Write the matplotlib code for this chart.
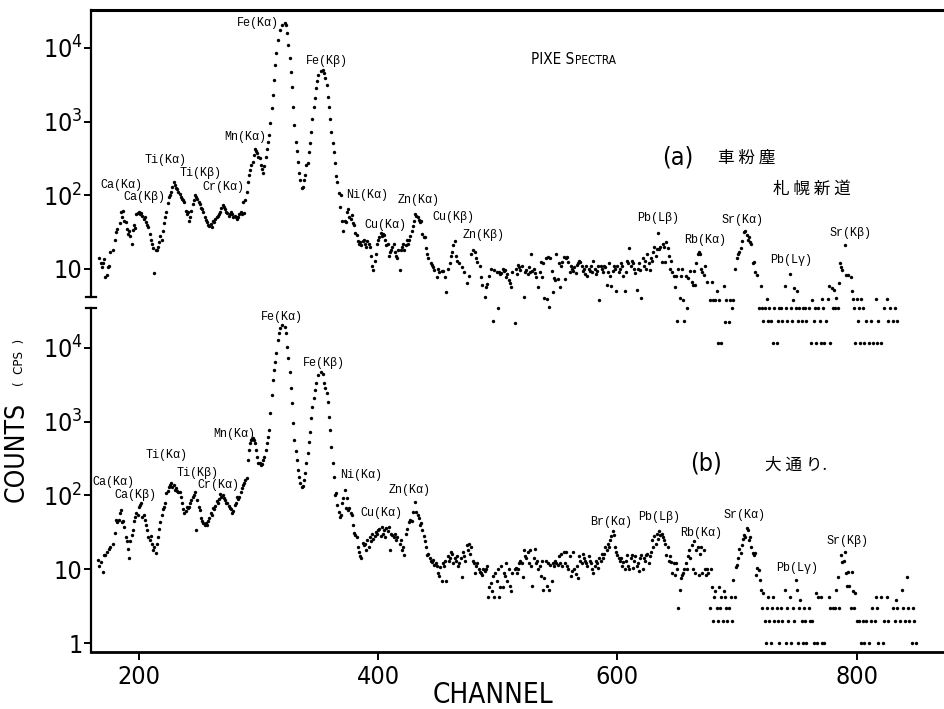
import matplotlib
matplotlib.use("Agg")
import matplotlib.pyplot as plt
from matplotlib.ticker import NullLocator

plt.rcParams['font.family'] = ['DejaVu Sans']
plt.rcParams['font.stretch'] = 'condensed'
plt.rcParams['mathtext.fontset'] = 'custom'
plt.rcParams['mathtext.rm'] = 'DejaVu Sans:stretch=condensed'
plt.rcParams['mathtext.it'] = 'DejaVu Sans:stretch=condensed'

# (a) road dust, Sapporo Shindo  -- (channel, counts/s)
pts_a = [
    (167,14),(168,12),(169,10.6),(170,12),(171,13.5),(172,7.8),(173,8.3),(174,10.6),(175,11),(176,17),
    (178,18),(180,25),(181,32),(182,35),(184,42),(185,60),(186,50),(187,62),(188,45),(189,43),
    (190,35),(191,30),(192,33),(193,28),(194,22),(195,34),(196,40),(197,36),(198,55),(199,58),
    (200,60),(201,56),(202,58),(203,52),(204,48),(205,50),(206,44),(207,40),(208,37),(209,30),
    (210,25),(211,22),(212,19),(213,8.8),(214,18),(215,18),(216,20),(217,23),(218,28),(219,25),
    (220,33),(221,42),(222,50),(223,60),(224,78),(225,95),(226,100),(227,110),(228,130),(229,150),
    (230,140),(231,125),(232,120),(233,110),(234,105),(235,95),(236,90),(237,85),(238,80),(239,62),
    (240,55),(241,60),(242,45),(243,50),(244,62),(245,75),(246,85),(247,100),(248,95),(249,90),
    (250,82),(251,75),(252,68),(253,65),(254,60),(255,50),(256,46),(257,43),(258,40),(259,38),
    (260,41),(261,37),(262,45),(263,44),(264,48),(265,50),(266,52),(267,55),(268,60),(269,68),
    (270,73),(271,70),(272,65),(273,60),(274,58),(275,52),(276,55),(277,60),(278,55),(279,50),
    (280,52),(281,50),(282,48),(283,50),(284,55),(285,60),(286,55),(287,80),(288,58),(289,85),
    (290,110),(291,150),(292,190),(293,220),(294,260),(295,280),(296,350),(297,430),(298,400),(299,370),
    (300,330),(301,320),(302,260),(303,230),(304,200),(305,250),(306,330),(307,420),(308,530),(309,660),
    (310,960),(311,1530),(312,2300),(313,3670),(314,5800),(315,8500),(316,12800),(318,17400),(320,20400),
    (322,21800),(323,20400),(324,15900),(325,11000),(326,7200),(327,4700),(328,2950),(329,1580),(330,900),
    (331,530),(332,400),(333,280),(334,200),(335,160),(336,125),(337,130),(338,160),(339,190),(340,260),
    (341,275),(342,390),(343,510),(344,720),(345,1100),(346,1600),(347,2100),(348,2900),(349,3600),
    (350,4300),(352,4900),(354,5000),(355,4600),(356,3900),(357,3100),(358,2150),(359,1600),(360,1100),
    (361,720),(362,510),(363,390),(364,275),(365,180),(366,150),(367,108),(368,70),(369,100),(370,45),
    (371,33),(372,45),(373,43),(374,60),(375,65),(376,50),(377,48),(378,54),(379,42),(380,40),
    (381,31),(382,29),(383,24),(384,22),(385,23),(386,21),(387,24),(388,25),(389,22),(390,20),
    (391,24),(392,22),(393,20),(394,15),(395,11),(396,9.6),(397,13),(398,16),(399,22),(400,25),
    (401,27),(402,31),(403,28),(404,30),(405,29),(406,25),(407,21),(408,22),(409,15),(410,17),
    (411,18),(412,20),(413,22),(414,17),(415,15),(416,14),(417,18),(418,9.7),(419,18),(420,20),
    (421,22),(422,18),(423,21),(424,25),(425,22),(426,25),(427,28),(428,33),(429,38),(430,45),
    (431,55),(432,52),(433,50),(434,46),(435,43),(436,45),(437,30),(438,27),(439,27),(440,19),
    (441,16),(442,14),(444,12),(445,11.3),(446,10.5),(447,9.6),(449,7.8),(450,10),(451,9),(453,9.5),
    (454,9.5),(456,7.8),(457,4.8),(458,10),(460,12),(461,15),(462,17),(463,21),(464,24),(465,15),
    (466,13),(468,12),(470,10.5),(472,9),(474,6.5),(476,8),(478,16),(479,18),(481,17),(482,14),
    (483,12.5),(485,11),(486,7.8),(487,6.1),(489,4.2),(490,5.7),(491,6.3),(493,8),(494,10),(496,2),
    (497,9.7),(499,9.1),(500,3),(501,9.1),(502,8.5),(503,8.9),(504,10),(505,9.3),(506,9.7),(507,7.8),
    (508,8.5),(509,7.2),(510,6.5),(511,5.7),(512,9),(514,1.85),(515,10),(516,8.5),(517,11.3),(518,10.5),
    (519,9.7),(520,11),(522,4.2),(523,9),(524,9.7),(525,8.5),(526,10.5),(527,9),(528,16),(529,9.5),
    (530,10),(531,8.7),(532,7.8),(534,5.7),(535,9),(536,12.5),(537,7.8),(538,12),(539,4),(540,14),
    (541,3.9),(542,14.5),(543,3.05),(544,14),(545,9.3),(546,4.9),(547,7.5),(548,7.1),(549,16),(550,7.3),
    (551,12),(552,5.7),(553,11),(554,12.5),(555,14.5),(556,7.4),(557,14),(558,14.5),(559,12.5),(560,9),
    (561,11),(562,10),(563,9.3),(564,10.5),(565,8.7),(566,11.5),(567,12),(568,13),(569,12.5),(570,11),
    (571,9.5),(572,10),(573,8.5),(574,11),(575,8),(576,10),(577,9.5),(578,11),(579,9),(580,13),
    (581,10),(582,8.5),(583,9.5),(584,11),(585,3.8),(586,11),(587,10),(588,9),(589,11),(590,10.5),
    (591,6),(592,9),(593,12),(594,8),(595,5.9),(596,9.5),(597,11),(598,10),(599,5),(600,11),
    (601,9),(602,10),(603,12),(604,11),(605,8),(606,5),(607,9),(608,13),(609,12),(610,19),
    (611,11),(612,13),(613,12),(614,9.9),(615,8.7),(616,5.2),(617,10),(618,12),(619,9.7),(620,4),
    (621,14),(622,11),(623,13),(624,10),(625,16),(626,12),(627,9.7),(628,14),(629,13),(630,17),
    (631,20),(632,15),(633,18.5),(634,31),(635,18.5),(636,20),(637,12.5),(638,22),(639,20),(640,12.5),
    (641,23),(642,19),(643,15),(644,10),(645,12.7),(646,9),(647,8),(648,5.7),(649,8),(650,2),
    (651,10),(652,4),(653,8),(654,10),(655,3.8),(656,2),(657,8),(658,3),(659,7.5),(661,9.3),
    (662,6.7),(663,6),(664,9.3),(665,6),(666,12),(667,16),(668,17),(669,16),(670,10),(671,9),
    (672,8.3),(673,11),(675,6.7),(677,3.8),(679,6.7),(680,3.8),(682,3.8),(683,5),(684,1),(685,3.8),
    (687,1),(689,5.9),(690,1.9),(691,3.8),(693,1.9),(694,3.8),(696,3),(697,3.8),(698,10),(700,14),
    (701,16),(702,17),(703,19),(704,24),(706,32),(707,33),(708,29),(709,25),(710,27),(711,23),
    (712,22),(713,12),(714,12.5),(715,9),(717,8.3),(718,3),(720,5.9),(721,3),(722,2),(723,3),
    (725,3.9),(726,2),(727,3),(728,2),(730,1),(731,3),(733,1),(734,2),(735,3),(737,3),
    (738,2),(740,5.9),(741,3),(742,2),(744,8.5),(745,3),(746,2),(747,3.8),(748,5.5),(749,3),
    (750,5),(751,2),(752,3),(754,2),(755,3),(757,3),(758,2),(760,3),(762,1),(763,3.8),
    (764,2),(765,3),(766,1),(768,3),(769,2),(770,1),(771,3.9),(772,3),(773,1),(774,2),
    (776,3.9),(777,5.9),(778,1),(779,5.5),(780,3),(781,5.2),(782,3),(783,4),(784,3),(785,6.4),
    (786,12),(787,10.5),(788,9.7),(790,21),(791,8.3),(793,8.3),(795,7.7),(796,5),(797,3.9),(798,3),
    (799,1),(800,3.9),(801,2),(802,3),(803,1),(804,3.9),(805,3),(806,1),(808,2),(810,1),
    (812,2),(814,1),(816,3.9),(817,1),(818,2),(820,1),(823,3),(825,3.9),(826,2),(828,3),
    (830,2),(832,3),(834,2),
]

# (b) Odori  -- (channel, counts/s)
pts_b = [
    (166,13.3),(167,11),(168,12.5),(170,9.2),(171,15.6),(172,15.6),(173,17),(175,19),(176,20),(178,22),
    (180,31),(181,46),(182,44),(183,46),(184,57),(185,64),(186,44),(187,45),(188,37),(189,27),
    (190,24),(191,19),(192,14),(193,24),(194,29),(195,34),(196,45),(197,51),(198,57),(199,55),
    (200,70),(201,74),(202,78),(203,51),(204,55),(205,47),(206,40),(207,34),(208,27),(209,25),
    (210,28),(211,22),(212,18),(213,20),(214,16.6),(215,22),(216,27),(217,35),(218,44),(219,54),
    (220,65),(221,70),(222,79),(223,108),(224,115),(225,130),(226,140),(227,150),(228,130),(229,140),
    (230,120),(231,125),(232,115),(233,110),(234,110),(235,95),(236,79),(237,65),(238,58),(239,62),
    (240,70),(241,68),(242,70),(243,80),(244,87),(245,95),(246,100),(247,110),(248,34),(249,87),
    (250,70),(251,64),(252,50),(253,45),(254,42),(255,40),(256,42),(257,40),(258,45),(259,50),
    (260,57),(261,55),(262,68),(263,65),(264,72),(265,85),(266,80),(267,90),(268,105),(269,95),
    (270,100),(271,92),(272,87),(273,80),(274,78),(275,72),(276,68),(277,65),(278,58),(279,62),
    (280,74),(281,80),(282,95),(283,90),(284,95),(285,110),(286,125),(287,140),(288,150),(289,160),
    (290,175),(291,300),(292,420),(293,520),(294,560),(295,600),(296,570),(297,520),(298,420),(299,330),
    (300,280),(301,275),(302,260),(303,265),(304,300),(305,330),(306,420),(307,520),(308,620),(309,770),
    (310,1300),(311,2300),(312,3700),(313,5000),(314,6500),(315,8500),(316,12800),(317,16000),(318,18600),
    (320,20500),(322,19500),(323,16000),(324,10300),(325,7300),(326,4700),(327,2900),(328,1800),(329,950),
    (330,570),(331,400),(332,300),(333,220),(334,180),(335,150),(336,130),(337,135),(338,160),(339,200),
    (340,275),(341,380),(342,530),(343,720),(344,1120),(345,1600),(346,2100),(347,2700),(348,3400),
    (350,4300),(352,4700),(354,4500),(355,3400),(356,2900),(357,2450),(358,1850),(359,1160),(360,770),
    (361,450),(362,275),(363,178),(364,100),(365,108),(366,74),(367,60),(368,51),(369,54),(370,79),
    (371,92),(372,119),(373,68),(374,92),(375,64),(376,68),(377,58),(378,54),(379,40),(380,31),
    (381,29),(382,27),(383,20),(384,17),(385,15),(386,14),(387,23),(388,21),(389,22),(390,18),
    (391,25),(392,20),(393,27),(394,24),(395,30),(396,26),(397,28),(398,32),(399,30),(400,34),
    (401,35),(402,28),(403,37),(404,30),(405,34),(406,27),(407,36),(408,33),(409,37),(410,18),
    (411,30),(412,29),(413,27),(414,30),(415,25),(416,27),(418,22),(419,25),(420,18),(421,20),
    (422,15.6),(423,30),(424,35),(426,44),(427,47),(428,45),(429,60),(431,81),(432,60),(433,55),
    (434,50),(435,40),(436,42),(437,34),(438,28),(439,24),(440,20),(441,15.6),(442,16),(443,14),
    (444,13),(445,12.5),(446,13.5),(447,11.5),(448,12),(449,11),(450,9),(451,8),(452,10.7),(453,7),
    (454,12),(455,11),(456,13),(457,7),(458,15),(459,13),(460,14),(461,17),(462,16),(463,12),
    (464,14),(465,13),(466,15),(467,11),(468,12),(469,14),(470,7.8),(471,17),(472,15),(473,13),
    (474,21),(475,18),(476,22),(477,16),(478,20),(479,13),(480,12),(481,9),(482,11),(483,12),
    (484,10),(485,9.2),(486,8.8),(487,8.4),(488,10),(489,9.5),(490,10),(491,11),(492,4.2),(493,5.7),
    (494,6.5),(495,5),(496,8),(497,4.2),(498,9),(499,7),(500,10),(501,4.2),(502,5.7),(503,11),
    (504,5.7),(505,9),(506,8),(507,12),(508,7),(509,10),(510,6),(511,5),(512,9),(514,10),
    (515,10.5),(516,9),(517,10),(518,12),(519,13),(520,12),(521,7.8),(522,18),(523,15),(524,14),
    (525,17),(526,12),(527,18),(528,11),(529,6),(530,14),(531,19),(532,12),(533,13),(534,10),
    (535,11),(536,8),(537,13),(538,5.2),(539,7.6),(540,13),(541,6),(542,12),(543,5.2),(544,11.4),
    (545,7),(546,12),(547,11),(548,13),(549,12),(550,11.4),(551,15),(552,12),(553,16),(554,11),
    (555,17),(556,12),(557,17),(558,11),(559,10),(560,15),(561,8),(562,9.5),(563,17),(564,10),
    (565,8.6),(566,11),(567,7.5),(568,15),(569,13),(570,12),(571,16),(572,14),(573,13),(574,12),
    (575,11),(576,15),(577,13),(578,12),(579,10),(580,9),(581,11),(582,13),(583,12),(584,10.5),
    (585,14),(586,13),(587,16),(588,14),(589,16),(590,20),(591,18),(592,22),(593,20),(594,25),
    (595,28),(596,33),(597,29),(598,20),(599,17),(600,15.6),(601,14),(602,13),(603,14),(604,11),
    (605,12.5),(606,10),(607,13),(608,15.6),(609,11),(610,10),(611,14),(612,15.6),(613,10.5),(614,13),
    (615,15),(616,11),(617,12),(618,9.5),(619,14),(620,15.6),(621,10),(622,14),(623,13),(624,15.6),
    (625,16),(626,12),(627,15),(628,17),(629,25),(630,20),(631,28),(632,22),(633,30),(634,26),
    (635,33),(636,29),(637,30),(638,27),(639,25),(640,22),(641,15.6),(642,20),(643,13),(644,15),
    (645,12.5),(646,9),(647,12),(648,8.4),(649,12),(650,10),(651,3),(652,5.2),(653,7.5),(654,8.4),
    (655,9),(656,10),(657,12),(658,10),(659,15),(660,18),(661,14),(662,21),(663,10),(664,24),
    (665,9),(666,18),(667,20),(668,8.4),(669,16),(670,20),(671,9),(672,18),(673,10),(674,8.4),
    (675,10),(676,9),(677,3),(678,10),(679,5.7),(680,2),(681,4.2),(682,5),(683,3),(684,2),
    (685,5.7),(686,3),(687,4.2),(688,2),(689,5),(690,4.2),(691,3),(692,2),(693,3),(695,4.2),
    (696,2),(697,7.1),(698,4.2),(699,10.7),(700,11.4),(701,14),(702,19),(703,16.6),(704,21),(705,26),
    (706,29),(707,27),(708,36),(709,34),(710,25),(711,27),(712,20),(713,16.6),(714,15.6),(715,16.6),
    (716,8.4),(717,10.4),(718,9.8),(719,7.1),(720,5.2),(721,3),(722,4.8),(723,2),(724,1),(725,3),
    (726,4.2),(727,2),(728,1),(729,3),(730,4.2),(731,2),(733,3),(734,2),(735,1),(737,3),
    (738,2),(740,5.2),(741,1),(742,3),(743,2),(744,4.2),(745,1),(747,3),(748,2),(749,7.1),
    (750,5.2),(751,1),(752,3),(753,3.8),(754,2),(755,1),(756,3),(757,2),(758,1),(760,3),
    (761,2),(763,2),(764,1),(766,4.8),(767,1),(768,4.2),(770,4.2),(771,1),(773,1),(777,4.2),
    (778,3),(780,3),(782,3),(783,5.2),(784,7.8),(785,3),(787,15.6),(788,12.5),(789,13),(790,17),
    (791,9),(792,6),(793,9.2),(794,6),(795,3),(796,9.2),(797,5),(798,3),(799,4.8),(800,2),
    (802,2),(804,1),(805,2),(806,1),(808,2),(810,1),(812,2),(813,3),(815,2),(816,4.2),
    (817,3),(818,1),(820,4.2),(822,1),(823,2),(825,4.2),(826,2),(830,3),(832,2),(833,3.8),
    (834,3),(836,2),(838,5.2),(839,3),(840,2),(842,7.8),(843,3),(844,2),(846,1),(847,3),
    (848,2),(850,1),
]

# peak labels: (text, channel, counts)
labels_a = [
    ('Ca(Kα)', 185, 138), ('Ca(Kβ)', 205, 95), ('Ti(Kα)', 222.6, 301), ('Ti(Kβ)', 251.8, 200),
    ('Cr(Kα)', 271, 130), ('Mn(Kα)', 288.6, 617), ('Fe(Kα)', 299.4, 21800), ('Fe(Kβ)', 357, 6640),
    ('Ni(Kα)', 390.5, 101), ('Zn(Kα)', 434, 86), ('Cu(Kα)', 406, 40), ('Cu(Kβ)', 463, 51),
    ('Zn(Kβ)', 488, 29), ('Pb(Lβ)', 634.4, 49), ('Rb(Kα)', 673.6, 25), ('Sr(Kα)', 704.6, 46),
    ('Pb(Lγ)', 745.5, 13.2), ('Sr(Kβ)', 794.8, 31),
]
labels_b = [
    ('Fe(Kα)', 319.5, 26300), ('Fe(Kβ)', 354.5, 6270), ('Mn(Kα)', 280, 682), ('Ti(Kα)', 223.4, 354),
    ('Ti(Kβ)', 249.3, 202), ('Cr(Kα)', 266.8, 139), ('Ca(Kα)', 179, 152), ('Ca(Kβ)', 197.5, 102),
    ('Ni(Kα)', 385.5, 190), ('Zn(Kα)', 426.4, 119), ('Cu(Kα)', 403, 58), ('Br(Kα)', 595, 44),
    ('Pb(Lβ)', 635, 51), ('Rb(Kα)', 670, 31), ('Sr(Kα)', 706, 54), ('Pb(Lγ)', 750.5, 10.4),
    ('Sr(Kβ)', 792, 24),
]

W, H = 944, 709
fig = plt.figure(figsize=(W / 100, H / 100), dpi=100)
ax_b = fig.add_axes([91 / W, 1 - 652 / H, 853 / W, 344 / H])
ax_a = fig.add_axes([91 / W, 1 - 297 / H, 853 / W, 287 / H])
ax_a.set_zorder(3)
ax_a.patch.set_visible(False)

mono = ['Liberation Mono', 'DejaVu Sans Mono']

for ax, pts, labs in ((ax_a, pts_a, labels_a), (ax_b, pts_b, labels_b)):
    ch = [p[0] for p in pts]
    cps = [p[1] for p in pts]
    ax.scatter(ch, cps, s=6, c='black', linewidths=0, clip_on=False)
    ax.set_yscale('log')
    ax.set_xlim(160, 873)
    ax.yaxis.set_minor_locator(NullLocator())
    ax.xaxis.set_minor_locator(NullLocator())
    ax.spines['right'].set_visible(False)
    ax.spines['left'].set_linewidth(1.6)
    ax.tick_params(axis='y', direction='out', length=5, width=1.4, pad=1, labelsize=18)
    for t, c, v in labs:
        ax.text(c, v, t, ha='center', va='center', fontsize=8.5, family=mono, stretch='normal')

ax_a.set_ylim(10 ** 0.62, 10 ** 4.514)
ax_a.spines['bottom'].set_visible(False)
ax_a.spines['top'].set_linewidth(2.2)
ax_a.set_xticks([])
ax_a.set_yticks([10, 100, 1000, 10000])
ax_a.set_yticklabels(['10', r'$\mathregular{10^2}$', r'$\mathregular{10^3}$', r'$\mathregular{10^4}$'])

ax_b.set_ylim(10 ** -0.122, 10 ** 4.542)
ax_b.spines['top'].set_visible(False)
ax_b.spines['bottom'].set_linewidth(2.0)
ax_b.set_yticks([1, 10, 100, 1000, 10000])
ax_b.set_yticklabels(['1', '10', r'$\mathregular{10^2}$', r'$\mathregular{10^3}$', r'$\mathregular{10^4}$'])
ax_b.set_xticks([200, 400, 600, 800])
ax_b.tick_params(axis='x', direction='out', length=6, width=1.4, pad=3, labelsize=18)

# axis break marks
ax_a.plot([-0.006, 0.006], [0, 0], transform=ax_a.transAxes, color='black', lw=1.6, clip_on=False)
ax_b.plot([-0.006, 0.006], [1, 1], transform=ax_b.transAxes, color='black', lw=1.6, clip_on=False)

# titles and axis labels
fig.text(574 / W, 1 - 64 / H, 'PIXE S', fontsize=11, ha='right', va='baseline')
fig.text(575 / W, 1 - 64 / H, 'PECTRA', fontsize=8.5, ha='left', va='baseline')
fig.text(662 / W, 1 - 157 / H, '(a)', fontsize=18, va='center')
fig.text(718 / W, 1 - 158 / H, '車 粉 塵', fontsize=12, va='center',
         family=['Noto Sans CJK JP', 'DejaVu Sans'])
fig.text(773 / W, 1 - 189 / H, '札 幌 新 道', fontsize=12, va='center',
         family=['Noto Sans CJK JP', 'DejaVu Sans'])
fig.text(690 / W, 1 - 463 / H, '(b)', fontsize=18, va='center')
fig.text(765 / W, 1 - 465 / H, '大 通 り.', fontsize=12, va='center',
         family=['Noto Sans CJK JP', 'DejaVu Sans'])

fig.text(17 / W, 1 - 452 / H, 'COUNTS', fontsize=19, rotation=90, ha='center', va='center')
fig.text(19 / W, 1 - 362 / H, '(  CPS  )', fontsize=9.5, rotation=90, ha='center', va='center')
fig.text(493 / W, 1 - 695 / H, 'CHANNEL', fontsize=20, ha='center', va='center')

fig.savefig('out.png', dpi=100)
